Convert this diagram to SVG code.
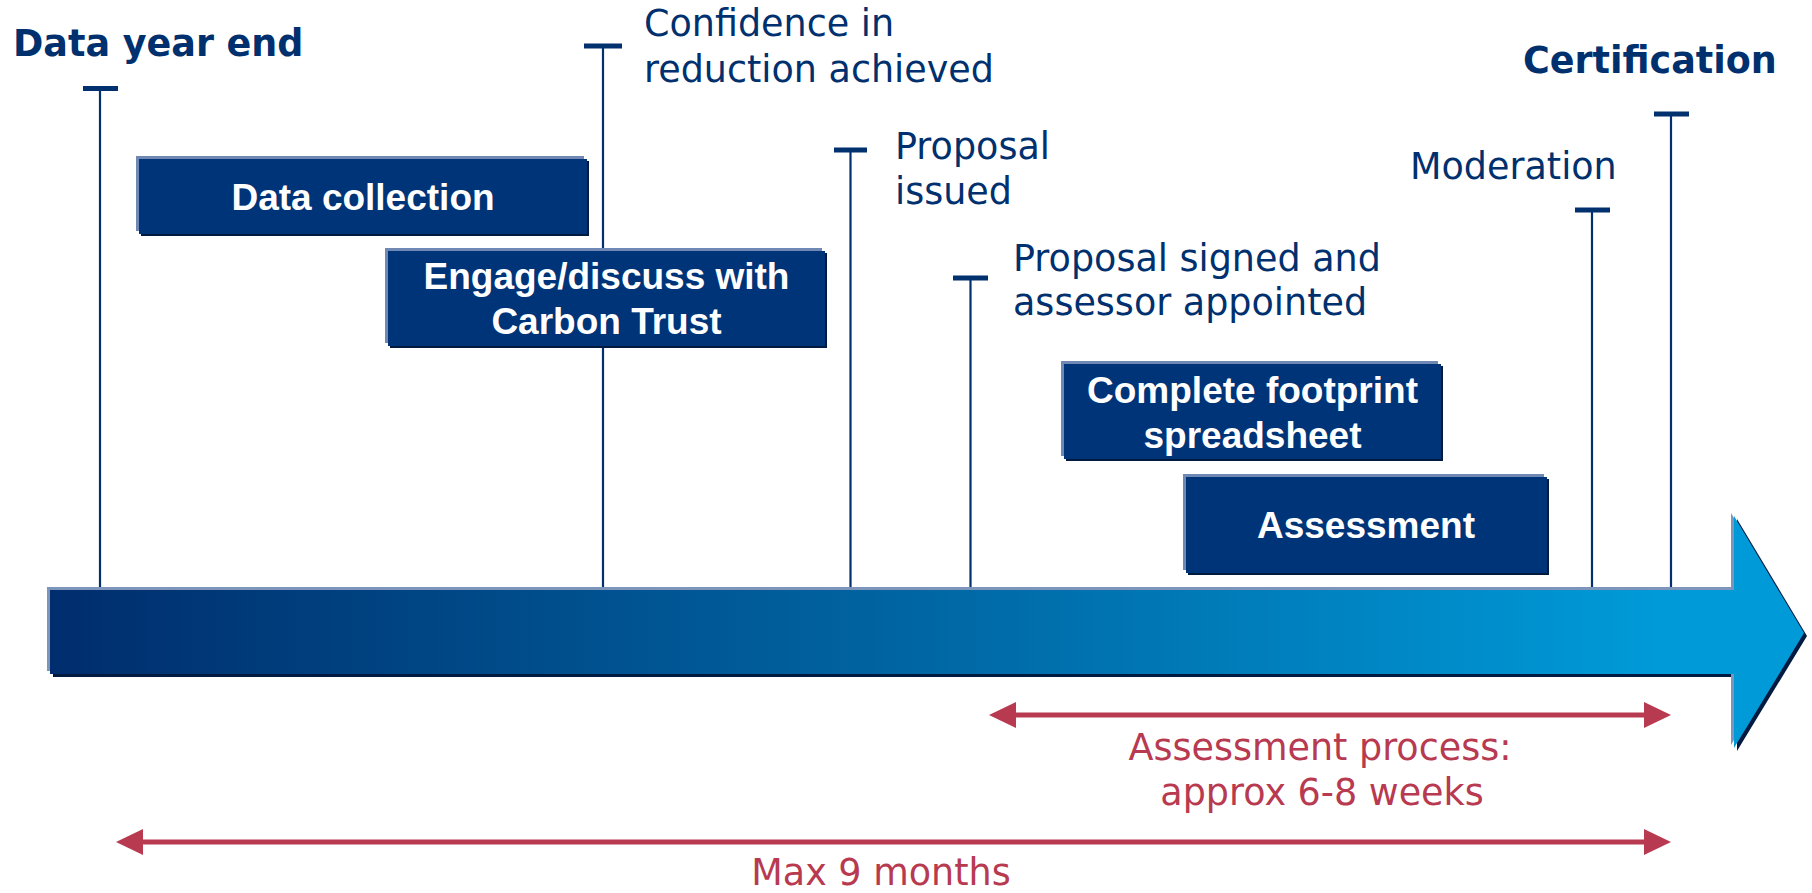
<svg xmlns="http://www.w3.org/2000/svg" width="1812" height="893" viewBox="0 0 1812 893">
<style>
.bar{stroke:#00306e;stroke-width:5}
.stem{stroke:#00306e;stroke-width:2.2}
.lbl{font-family:"DejaVu Sans",Verdana,sans-serif;font-size:36.5px;fill:#00306e}
.b{font-weight:bold}
.red{font-family:"DejaVu Sans",Verdana,sans-serif;font-size:36.5px;fill:#b83a50;text-anchor:middle}
.bl{fill:#7088b4}
.bd{fill:#001a40}
.bm{fill:#003478}
.bt{font-family:"Liberation Sans",Arial,sans-serif;font-weight:bold;font-size:37px;fill:#ffffff;text-anchor:middle}
.dim{stroke:#b83a50;stroke-width:5;fill:none;marker-start:url(#ah);marker-end:url(#ah)}
</style>
<defs>
<linearGradient id="tl" gradientUnits="userSpaceOnUse" x1="50" y1="0" x2="1660" y2="0">
<stop offset="0" stop-color="#002d6d"/>
<stop offset="0.5" stop-color="#00629f"/>
<stop offset="1" stop-color="#009ad8"/>
</linearGradient>
<marker id="ah" markerUnits="userSpaceOnUse" markerWidth="28" markerHeight="28" refX="16" refY="13" orient="auto-start-reverse">
<path d="M0,0 L27,13 L0,26 z" fill="#b83a50"/>
</marker>
</defs>
<rect width="1812" height="893" fill="#ffffff"/>

<g id="milestone-data-year-end">
<line class="stem" x1="100" y1="88" x2="100" y2="590"/>
<line class="bar" x1="83" y1="88.5" x2="118" y2="88.5"/>
<text class="lbl b" x="13" y="56">Data year end</text>
</g>
<g id="milestone-confidence">
<line class="stem" x1="603" y1="46" x2="603" y2="590"/>
<line class="bar" x1="584" y1="46" x2="622" y2="46"/>
<text class="lbl" x="644" y="36">Confidence in</text>
<text class="lbl" x="644" y="82">reduction achieved</text>
</g>
<g id="milestone-proposal-issued">
<line class="stem" x1="850.5" y1="150" x2="850.5" y2="590"/>
<line class="bar" x1="834" y1="150" x2="867" y2="150"/>
<text class="lbl" x="895" y="159">Proposal</text>
<text class="lbl" x="895" y="204">issued</text>
</g>
<g id="milestone-proposal-signed">
<line class="stem" x1="970.5" y1="278" x2="970.5" y2="590"/>
<line class="bar" x1="953" y1="278" x2="988" y2="278"/>
<text class="lbl" x="1013" y="271">Proposal signed and</text>
<text class="lbl" x="1013" y="315">assessor appointed</text>
</g>
<g id="milestone-moderation">
<line class="stem" x1="1592" y1="210" x2="1592" y2="590"/>
<line class="bar" x1="1575" y1="210" x2="1610" y2="210"/>
<text class="lbl" x="1410" y="179">Moderation</text>
</g>
<g id="milestone-certification">
<line class="stem" x1="1671" y1="114" x2="1671" y2="590"/>
<line class="bar" x1="1654" y1="114" x2="1689" y2="114"/>
<text class="lbl b" x="1523" y="73">Certification</text>
</g>

<g id="box-data-collection">
<rect class="bd" x="141" y="161" width="448" height="75"/>
<rect class="bl" x="136" y="156" width="448" height="75"/>
<rect class="bm" x="139" y="159" width="448" height="75"/>
<text class="bt" x="363" y="210">Data collection</text>
</g>
<g id="box-engage">
<rect class="bd" x="390" y="253" width="437" height="95"/>
<rect class="bl" x="385" y="248" width="437" height="95"/>
<rect class="bm" x="388" y="251" width="437" height="95"/>
<text class="bt" x="606.5" y="289">Engage/discuss with</text>
<text class="bt" x="606.5" y="334">Carbon Trust</text>
</g>
<g id="box-complete-footprint">
<rect class="bd" x="1066" y="366" width="377" height="95"/>
<rect class="bl" x="1061" y="361" width="377" height="95"/>
<rect class="bm" x="1064" y="364" width="377" height="95"/>
<text class="bt" x="1252.5" y="403">Complete footprint</text>
<text class="bt" x="1252.5" y="448">spreadsheet</text>
</g>
<g id="box-assessment">
<rect class="bd" x="1188" y="479" width="361" height="96"/>
<rect class="bl" x="1183" y="474" width="361" height="96"/>
<rect class="bm" x="1186" y="477" width="361" height="96"/>
<text class="bt" x="1366" y="538">Assessment</text>
</g>

<g id="timeline-arrow">
<polygon points="53,593 1737,593 1737,519 1807,636 1737,751 1737,677 53,677" fill="#001a40"/>
<polygon points="47,587 1731,587 1731,513 1801,630 1731,745 1731,671 47,671" fill="#7d95bb"/>
<polygon points="50,590 1734,590 1734,516 1804,633 1734,748 1734,674 50,674" fill="url(#tl)"/>
</g>

<g id="connectors">
<line class="dim" x1="1000" y1="715" x2="1660" y2="715"/>
<line class="dim" x1="127" y1="842" x2="1660" y2="842"/>
</g>
<g id="labels-duration">
<text class="red" x="1320" y="760">Assessment process:</text>
<text class="red" x="1322" y="805">approx 6-8 weeks</text>
<text class="red" x="881" y="885">Max 9 months</text>
</g>
</svg>
